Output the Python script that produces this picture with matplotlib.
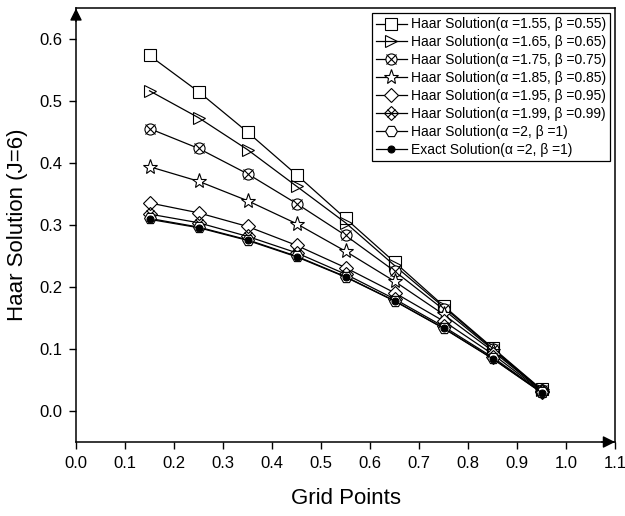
import matplotlib
matplotlib.use('Agg')
import matplotlib.pyplot as plt
from matplotlib.legend_handler import HandlerTuple

plt.rcParams['font.family'] = ['Liberation Sans', 'DejaVu Sans']

# Grid points and Haar wavelet solutions (J=6) for several (alpha, beta)
grid_points = [0.15, 0.25, 0.35, 0.45, 0.55, 0.65, 0.75, 0.85, 0.95]
haar_155 = [0.574, 0.5156, 0.4504, 0.3816, 0.311, 0.2405, 0.1700, 0.1023, 0.035]
haar_165 = [0.517, 0.4736, 0.422, 0.363, 0.304, 0.235, 0.1680, 0.1010, 0.034]
haar_175 = [0.456, 0.424, 0.383, 0.335, 0.2836, 0.226, 0.1640, 0.0995, 0.034]
haar_185 = [0.3945, 0.371, 0.3396, 0.3025, 0.258, 0.2095, 0.1560, 0.0970, 0.033]
haar_195 = [0.336, 0.320, 0.298, 0.2675, 0.2315, 0.191, 0.1453, 0.0920, 0.032]
haar_199 = [0.318, 0.304, 0.282, 0.2555, 0.221, 0.181, 0.1365, 0.0870, 0.031]
haar_200 = [0.311, 0.297, 0.2765, 0.2500, 0.217, 0.178, 0.1340, 0.0850, 0.030]
exact_200 = [0.3095, 0.296, 0.2755, 0.249, 0.2163, 0.1776, 0.1335, 0.0845, 0.0297]

labels = [
    'Haar Solution(\u03b1 =1.55, \u03b2 =0.55)',
    'Haar Solution(\u03b1 =1.65, \u03b2 =0.65)',
    'Haar Solution(\u03b1 =1.75, \u03b2 =0.75)',
    'Haar Solution(\u03b1 =1.85, \u03b2 =0.85)',
    'Haar Solution(\u03b1 =1.95, \u03b2 =0.95)',
    'Haar Solution(\u03b1 =1.99, \u03b2 =0.99)',
    'Haar Solution(\u03b1 =2, \u03b2 =1)',
    'Exact Solution(\u03b1 =2, \u03b2 =1)',
]

x_ticks = [0.0, 0.1, 0.2, 0.3, 0.4, 0.5, 0.6, 0.7, 0.8, 0.9, 1.0, 1.1]
y_ticks = [0.0, 0.1, 0.2, 0.3, 0.4, 0.5, 0.6]

fig = plt.figure(figsize=(6.25, 5.16), dpi=100)
ax = fig.add_axes([0.1216, 0.1434, 0.8624, 0.8403])

lw = 0.9
mew = 0.8
ms = 8

# (values, marker, face colour, overlay marker, size)
styles = [
    (haar_155, 's', 'white', None, ms),
    (haar_165, '>', 'none', None, ms + 1),
    (haar_175, 'o', 'white', 'x', ms),
    (haar_185, '*', 'white', None, ms + 3),
    (haar_195, 'D', 'white', None, ms - 0.5),
    (haar_199, 'D', 'none', 'x', ms - 0.5),
    (haar_200, 'H', 'white', None, ms + 0.5),
    (exact_200, 'o', 'black', None, 5),
]

handles = []
for (vals, mk, fc, over, size), lab in zip(styles, labels):
    ln, = ax.plot(grid_points, vals, color='black', lw=lw, marker=mk,
                  markersize=size, markerfacecolor=fc, markeredgecolor='black',
                  markeredgewidth=mew)
    if over is not None:
        ov, = ax.plot(grid_points, vals, linestyle='none', marker=over,
                      markersize=size * 0.85, markeredgecolor='black',
                      markeredgewidth=mew)
        handles.append((ln, ov))
    else:
        handles.append(ln)

ax.set_xlim(0.0, 1.1)
ax.set_ylim(-0.05, 0.65)
ax.set_xticks(x_ticks)
ax.set_yticks(y_ticks)
ax.set_xticklabels([f'{v:.1f}' for v in x_ticks])
ax.set_yticklabels([f'{v:.1f}' for v in y_ticks])
ax.tick_params(axis='both', direction='out', length=5, width=1.0,
               labelsize=12, top=False, right=False, pad=5)

for sp in ax.spines.values():
    sp.set_linewidth(1.1)

ax.set_xlabel('Grid Points', fontsize=16, labelpad=12)
ax.set_ylabel('Haar Solution (J=6)', fontsize=16, labelpad=8)

# Arrow heads on the axis ends
ax.annotate('', xy=(1.0, 0.0), xytext=(0.975, 0.0), xycoords='axes fraction',
            arrowprops=dict(arrowstyle='-|>', color='black', lw=1.0,
                            mutation_scale=18, shrinkA=0, shrinkB=0))
ax.annotate('', xy=(0.0, 1.0), xytext=(0.0, 0.97), xycoords='axes fraction',
            arrowprops=dict(arrowstyle='-|>', color='black', lw=1.0,
                            mutation_scale=18, shrinkA=0, shrinkB=0))

leg = ax.legend(handles, labels, loc='upper right', fontsize=10,
                handler_map={tuple: HandlerTuple(ndivide=1)},
                frameon=True, fancybox=False, edgecolor='black',
                framealpha=1.0, numpoints=1, handlelength=2.2,
                handletextpad=0.3, labelspacing=0.28, borderpad=0.3,
                borderaxespad=0.35)
leg.get_frame().set_linewidth(0.9)

fig.savefig('out.png', dpi=100)
